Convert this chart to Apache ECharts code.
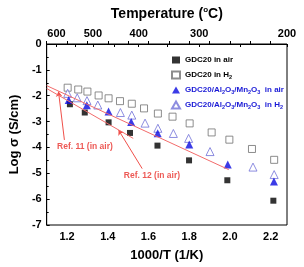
<!DOCTYPE html>
<html>
<head>
<meta charset="utf-8">
<script src="https://cdn.jsdelivr.net/npm/echarts@6/dist/echarts.min.js"></script>
<style>
  html, body { margin: 0; padding: 0; background: #fff; }
  #main { width: 304px; height: 267px; }
</style>
</head>
<body>
<div id="main"></div>
<script>
// x = 1000/T (1/K), y = log sigma (S/cm)
const gdcAirX = [1.214, 1.287, 1.404, 1.509, 1.644, 1.799, 1.987, 2.213];
const gdcAirY = [-2.33, -2.65, -3.03, -3.44, -3.93, -4.50, -5.27, -6.06];

const gdcH2X = [1.203, 1.255, 1.300, 1.355, 1.404, 1.460, 1.518, 1.578, 1.646, 1.718, 1.802, 1.910, 1.997, 2.108, 2.217];
const gdcH2Y = [-1.69, -1.76, -1.84, -1.99, -2.10, -2.21, -2.31, -2.49, -2.69, -2.81, -3.07, -3.42, -3.70, -4.06, -4.48];

const compAirX = [1.208, 1.297, 1.404, 1.515, 1.645, 1.800, 1.989, 2.216];
const compAirY = [-2.17, -2.37, -2.61, -3.02, -3.45, -3.89, -4.66, -5.32];

const compH2X = [1.203, 1.250, 1.298, 1.351, 1.462, 1.518, 1.583, 1.646, 1.722, 1.797, 1.902, 2.113, 2.217];
const compH2Y = [-1.91, -2.08, -2.19, -2.36, -2.65, -2.75, -3.06, -3.26, -3.46, -3.65, -4.16, -4.76, -5.05];

// literature fits (straight lines)
const ref11Line = [[1.10, -1.61], [1.994, -4.86]];
const ref12Line = [[1.10, -1.72], [1.525, -3.65]];
const refArrows = [
  [[1.187, -3.71], [1.158, -1.84]],
  [[1.569, -4.82], [1.453, -3.33]]
];
const refLabels = [[1.288, -3.98, 'Ref. 11 (in air)'], [1.617, -5.09, 'Ref. 12 (in air)']];

// axes
const bottomLabels = [1.2, 1.4, 1.6, 1.8, 2.0, 2.2];
const bottomTicks = [1.1, 1.2, 1.3, 1.4, 1.5, 1.6, 1.7, 1.8, 1.9, 2.0, 2.1, 2.2];
const topLabelPos = [1.148, 1.327, 1.552, 1.849, 2.28];
const topLabels = ['600', '500', '400', '300', '200'];
const topTicks = [1.148, 1.239, 1.327, 1.433, 1.552, 1.694, 1.849, 2.052, 2.28];

const names = ['GDC20 in air', 'GDC20 in H2', 'GDC20/Al2O3/Mn2O3  in air', 'GDC20/Al2O3/Mn2O3  in H2'];

const FONT = 'Liberation Sans, Arial, sans-serif';
const zip = (xs, ys) => xs.map((x, i) => [x, ys[i]]);
const subs = s => s.replace(/(Al|O|Mn|H)(\d)/g, '$1{s|$2}');

let myChart = echarts.init(document.getElementById('main'));

myChart.setOption({
  animation: false,
  backgroundColor: '#fff',
  textStyle: { fontFamily: FONT },
  grid: { left: 43, right: 17, top: 44, bottom: 40, show: true, borderColor: '#000', borderWidth: 1 },
  legend: {
    orient: 'vertical',
    left: 166,
    top: 50,
    itemWidth: 8,
    itemHeight: 7,
    itemGap: 4,
    data: [
      { name: names[0], textStyle: { color: '#000' } },
      { name: names[1], textStyle: { color: '#000' } },
      { name: names[2], textStyle: { color: '#1a1ad6' } },
      { name: names[3], textStyle: { color: '#1a1ad6' } }
    ],
    formatter: n => subs(n),
    textStyle: {
      fontSize: 8, fontWeight: 'bold', fontFamily: FONT, lineHeight: 10,
      rich: { s: { fontSize: 5.5, fontWeight: 'bold', lineHeight: 6, padding: [5, 0, 0, 0], verticalAlign: 'bottom' } }
    }
  },
  xAxis: [
    {
      type: 'value', position: 'bottom', min: 1.1, max: 2.28,
      name: '1000/T (1/K)', nameLocation: 'middle', nameGap: 24,
      nameTextStyle: { fontSize: 13, fontWeight: 'bold', color: '#000' },
      axisLine: { lineStyle: { color: '#000' } },
      axisTick: { inside: true, length: 3, customValues: bottomTicks, lineStyle: { color: '#000' } },
      axisLabel: { customValues: bottomLabels, margin: 6, fontSize: 11, fontWeight: 'bold', color: '#000',
        formatter: v => v.toFixed(1) },
      splitLine: { show: false }
    },
    {
      type: 'value', position: 'top', min: 1.1, max: 2.28,
      name: 'Temperature ({o|o}C)', nameLocation: 'middle', nameGap: 22,
      nameTextStyle: { fontSize: 14, fontWeight: 'bold', color: '#000',
        rich: { o: { fontSize: 8, fontWeight: 'bold', verticalAlign: 'top', lineHeight: 16, padding: [0, 0, 6, 0] } } },
      axisLine: { lineStyle: { color: '#000' } },
      axisTick: { inside: true, length: 3, customValues: topTicks, lineStyle: { color: '#000' } },
      axisLabel: { customValues: topLabelPos, margin: 5, fontSize: 11, fontWeight: 'bold', color: '#000',
        formatter: (v, i) => topLabels[topLabelPos.indexOf(v)] },
      splitLine: { show: false }
    }
  ],
  yAxis: {
    type: 'value', min: -7, max: 0, interval: 1,
    name: 'Log σ (S/cm)', nameLocation: 'middle', nameGap: 23,
    nameTextStyle: { fontSize: 13, fontWeight: 'bold', color: '#000' },
    axisLine: { show: true, lineStyle: { color: '#000' } },
    axisTick: { show: true, inside: true, length: 3, lineStyle: { color: '#000' } },
    minorTick: { show: true, splitNumber: 2, length: 2, lineStyle: { color: '#000' } },
    axisLabel: { margin: 5, fontSize: 11, fontWeight: 'bold', color: '#000' },
    splitLine: { show: false }
  },
  series: [
    {
      name: 'ref11', type: 'line', data: ref11Line, showSymbol: false, silent: true,
      lineStyle: { color: '#f26b6b', width: 1 }
    },
    {
      name: 'ref12', type: 'line', data: ref12Line, showSymbol: false, silent: true,
      lineStyle: { color: '#f26b6b', width: 1 }
    },
    {
      name: 'arrows', type: 'lines', coordinateSystem: 'cartesian2d', silent: true,
      symbol: ['none', 'arrow'], symbolSize: 5,
      lineStyle: { color: '#f0504a', width: 1, opacity: 1 },
      data: refArrows.map(c => ({ coords: c }))
    },
    {
      name: 'reflabels', type: 'scatter', symbolSize: 0, silent: true,
      data: refLabels,
      label: { show: true, position: 'inside', formatter: p => p.data[2],
        color: '#e8302a', fontSize: 8.5, fontWeight: 'bold', fontFamily: FONT }
    },
    {
      name: names[1], type: 'scatter', symbol: 'rect', symbolSize: 7,
      data: zip(gdcH2X, gdcH2Y),
      itemStyle: { color: '#fff', borderColor: '#707070', borderWidth: 1 }
    },
    {
      name: names[3], type: 'scatter', symbol: 'triangle', symbolSize: 8,
      data: zip(compH2X, compH2Y),
      itemStyle: { color: '#fff', borderColor: '#7070d8', borderWidth: 1 }
    },
    {
      name: names[0], type: 'scatter', symbol: 'rect', symbolSize: 6,
      data: zip(gdcAirX, gdcAirY),
      itemStyle: { color: '#000' }
    },
    {
      name: names[2], type: 'scatter', symbol: 'triangle', symbolSize: 8,
      data: zip(compAirX, compAirY),
      itemStyle: { color: '#0a0ae0' }
    }
  ]
});
</script>
</body>
</html>
